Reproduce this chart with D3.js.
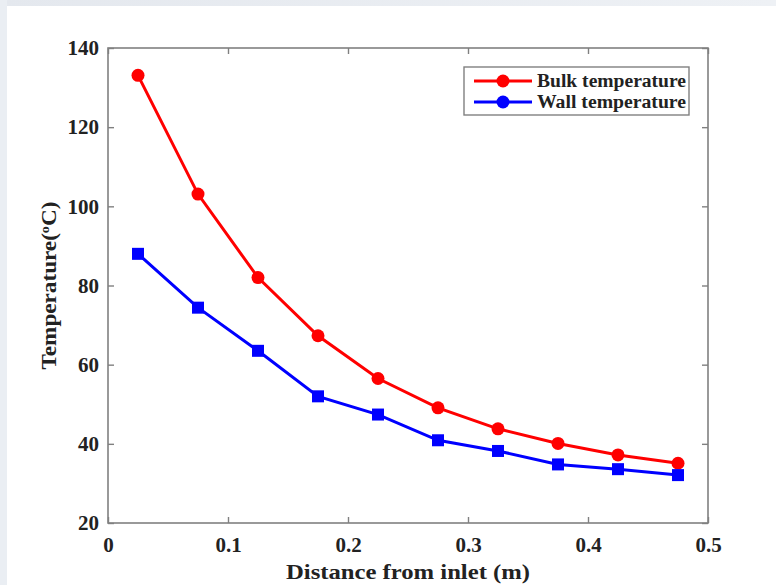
<!DOCTYPE html>
<html>
<head>
<meta charset="utf-8">
<script src="https://cdn.jsdelivr.net/npm/d3@7"></script>
<style>
  body { margin: 0; background: #fff; }
  svg text { font-family: "Liberation Serif", "Times New Roman", serif; font-weight: bold; fill: #222; }
</style>
</head>
<body>
<div id="chart"></div>
<script>
// distance from inlet (m)
var distance = [0.025, 0.075, 0.125, 0.175, 0.225, 0.275, 0.325, 0.375, 0.425, 0.475];
var bulkTemp = [133.1, 103.1, 82, 67.3, 56.5, 49.1, 43.8, 40.1, 37.2, 35.1];
var wallTemp = [88, 74.4, 63.5, 52, 47.4, 40.9, 38.2, 34.8, 33.6, 32.1];
var xTicks = [0, 0.1, 0.2, 0.3, 0.4, 0.5];
var yTicks = [20, 40, 60, 80, 100, 120, 140];
var seriesNames = ["Bulk temperature", "Wall temperature"];

var width = 776, height = 585;
// plot box edges (note: "top" is taken by window.top, so use other names)
var plotL = 108, plotR = 708, plotT = 48, plotB = 523;

var svg = d3.select("#chart").append("svg")
  .attr("width", width)
  .attr("height", height);

// faint gray frame strips on the top and left of the picture
var grad = svg.append("defs").append("linearGradient").attr("id", "strip");
grad.append("stop").attr("offset", "0%").attr("stop-color", "#e4e8ee");
grad.append("stop").attr("offset", "100%").attr("stop-color", "#eef1f5");
svg.append("rect").attr("x", 0).attr("y", 0).attr("width", width).attr("height", 6).attr("fill", "url(#strip)");
svg.append("rect").attr("x", 0).attr("y", 0).attr("width", 7).attr("height", height).attr("fill", "#eaeef3");

var x = d3.scaleLinear().domain([0, 0.5]).range([plotL, plotR]);
var y = d3.scaleLinear().domain([20, 140]).range([plotB, plotT]);

var axisColor = "#808080";

// box
svg.append("rect")
  .attr("x", plotL).attr("y", plotT)
  .attr("width", plotR - plotL).attr("height", plotB - plotT)
  .attr("fill", "none").attr("stroke", axisColor).attr("stroke-width", 1.6);

// axes with inward ticks
var xAxis = d3.axisBottom(x).tickValues(xTicks).tickSize(-6).tickPadding(12)
  .tickFormat(function(d) { return d === 0 ? "0" : d3.format(".1f")(d); });
var gx = svg.append("g").attr("transform", "translate(0," + plotB + ")").call(xAxis);
var xTop = d3.axisTop(x).tickValues(xTicks).tickSize(-6).tickFormat("");
var gxt = svg.append("g").attr("transform", "translate(0," + plotT + ")").call(xTop);

var yAxis = d3.axisLeft(y).tickValues(yTicks).tickSize(-6).tickPadding(9);
var gy = svg.append("g").attr("transform", "translate(" + plotL + ",0)").call(yAxis);
var yRight = d3.axisRight(y).tickValues(yTicks).tickSize(-6).tickFormat("");
var gyr = svg.append("g").attr("transform", "translate(" + plotR + ",0)").call(yRight);

[gx, gxt, gy, gyr].forEach(function(g) {
  g.select(".domain").remove();
  g.selectAll(".tick line").attr("stroke", axisColor).attr("stroke-width", 1.4);
  g.selectAll(".tick text").attr("font-size", 21).attr("fill", "#222");
});
gx.selectAll(".tick text").attr("dy", "0.82em");

// axis labels
svg.append("text")
  .attr("x", (plotL + plotR) / 2).attr("y", 579)
  .attr("text-anchor", "middle").attr("font-size", 22)
  .attr("textLength", 244).attr("lengthAdjust", "spacingAndGlyphs")
  .text("Distance from inlet (m)");

var yl = svg.append("text")
  .attr("transform", "translate(56," + ((plotT + plotB) / 2) + ") rotate(-90)")
  .attr("text-anchor", "middle").attr("font-size", 21)
  .attr("textLength", 168).attr("lengthAdjust", "spacingAndGlyphs");
yl.append("tspan").text("Temperature(");
yl.append("tspan").attr("baseline-shift", "super").attr("font-size", 13).text("o");
yl.append("tspan").text("C)");

// lines
var line = d3.line().x(function(d, i) { return x(distance[i]); }).y(function(d) { return y(d); });

svg.append("path").datum(bulkTemp)
  .attr("d", line).attr("fill", "none").attr("stroke", "#ff0000").attr("stroke-width", 3);
svg.append("path").datum(wallTemp)
  .attr("d", line).attr("fill", "none").attr("stroke", "#0000ff").attr("stroke-width", 3);

svg.selectAll(".bulk").data(bulkTemp).enter().append("circle")
  .attr("cx", function(d, i) { return x(distance[i]); })
  .attr("cy", function(d) { return y(d); })
  .attr("r", 6.5).attr("fill", "#ff0000");

svg.selectAll(".wall").data(wallTemp).enter().append("rect")
  .attr("x", function(d, i) { return x(distance[i]) - 6; })
  .attr("y", function(d) { return y(d) - 6; })
  .attr("width", 12).attr("height", 12).attr("fill", "#0000ff");

// legend
var lg = svg.append("g").attr("transform", "translate(464,67)");
lg.append("rect").attr("width", 225).attr("height", 48)
  .attr("fill", "#fff").attr("stroke", axisColor).attr("stroke-width", 1.4);
var colors = ["#ff0000", "#0000ff"];
seriesNames.forEach(function(name, i) {
  var yy = 14 + i * 21;
  lg.append("line").attr("x1", 10).attr("x2", 68).attr("y1", yy).attr("y2", yy)
    .attr("stroke", colors[i]).attr("stroke-width", 3);
  lg.append("circle").attr("cx", 39).attr("cy", yy).attr("r", 6.5).attr("fill", colors[i]);
  lg.append("text").attr("x", 73).attr("y", yy + 6).attr("font-size", 18)
    .attr("textLength", 149).attr("lengthAdjust", "spacingAndGlyphs").text(name);
});
</script>
</body>
</html>
